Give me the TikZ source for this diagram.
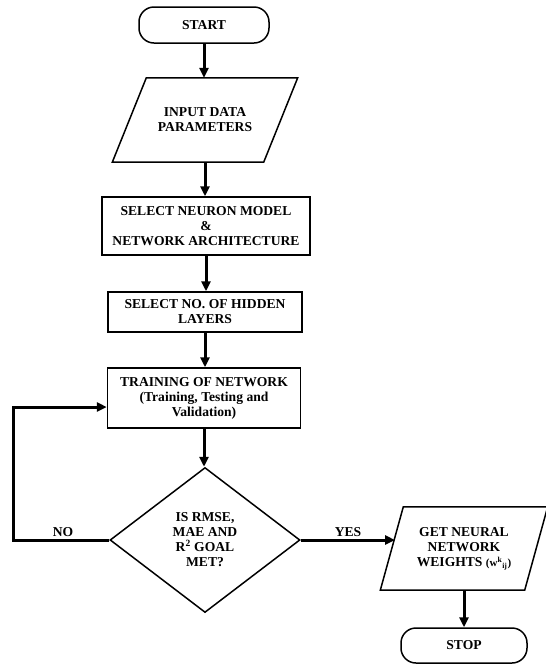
\documentclass[tikz,border=0pt]{standalone}
\usepackage{fontspec}
\setmainfont{Liberation Serif}
\usetikzlibrary{arrows.meta,shapes.geometric}
\begin{document}
\begin{tikzpicture}[x=1pt,y=-1pt,
  every node/.style={font=\fontsize{13.6}{15}\selectfont\bfseries, align=center, inner sep=0pt},
  term/.style={draw, line width=1.5pt, rounded corners=15pt},
  boxn/.style={draw, line width=1.5pt},
  inv/.style={},
  shp/.style={line width=1.5pt, line join=miter},
  arr/.style={line width=3pt, -{Triangle[length=10pt,width=9pt]}},
  lbl/.style={}]
  \useasboundingbox (0,0) rectangle (546,665);
  % nodes
  \node[term, minimum width=130pt, minimum height=36pt] (start) at (204,25) {START};
  \node[inv, minimum width=151pt, minimum height=84pt] (input) at (205,120) {INPUT DATA\\PARAMETERS};
  \draw[shp] ([xshift=17pt]input.north west) -- ([xshift=17pt]input.north east)
    -- ([xshift=-17pt]input.south east) -- ([xshift=-17pt]input.south west) -- cycle;
  \node[boxn, minimum width=208pt, minimum height=58pt] (sel1) at (206,226) {SELECT NEURON MODEL\\\&\\NETWORK ARCHITECTURE};
  \node[boxn, minimum width=194pt, minimum height=40pt] (sel2) at (205,312) {SELECT NO. OF HIDDEN\\LAYERS};
  \node[boxn, minimum width=193pt, minimum height=60pt] (train) at (204,398) {TRAINING OF NETWORK\\(Training, Testing and\\Validation)};
  \node[diamond, draw, line width=1.5pt, minimum width=190pt, minimum height=145pt] (dec) at (205,540) {IS RMSE,\\MAE AND\\R\textsuperscript{2} GOAL\\MET?};
  \node[inv, minimum width=144pt, minimum height=83pt] (get) at (464,548.5) {GET NEURAL\\NETWORK\\WEIGHTS {\fontsize{11}{12}\selectfont (w\textsuperscript{k}\textsubscript{ij})}};
  \draw[shp] ([xshift=11.5pt]get.north west) -- ([xshift=11.5pt]get.north east)
    -- ([xshift=-11.5pt]get.south east) -- ([xshift=-11.5pt]get.south west) -- cycle;
  \node[term, minimum width=126pt, minimum height=35pt] (stop) at (464,645.5) {STOP};
  \node[lbl] (no) at (63,532) {NO};
  \node[lbl] (yes) at (348,532) {YES};
  \coordinate (lp) at (13,540);
  \coordinate (yesend) at (395,540);
  % connectors
  \draw[arr] (start.south) -- (start.south |- input.north);
  \draw[arr] (input.south) -- (input.south |- sel1.north);
  \draw[arr] (sel1.south) -- (sel1.south |- sel2.north);
  \draw[arr] (sel2.south) -- (sel2.south |- train.north);
  \draw[arr] (train.south) -- (train.south |- dec.north);
  \draw[arr] (dec.west) -- (lp) |- ([yshift=-9pt]train.west);
  \draw[arr] (dec.east) -- (yesend);
  \draw[arr] (get.south) -- (stop.north);
\end{tikzpicture}
\end{document}
